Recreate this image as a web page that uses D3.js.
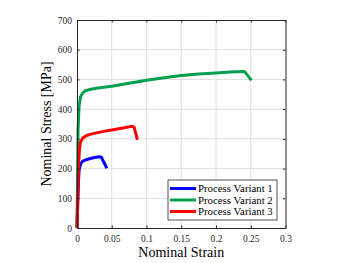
<!DOCTYPE html>
<html>
<head>
<meta charset="utf-8">
<script src="https://cdn.jsdelivr.net/npm/d3@7"></script>
<style>
  body { margin: 0; background: #fff; }
  svg { display: block; font-family: "Liberation Serif", "Times New Roman", serif; }
</style>
</head>
<body>
<div id="chart"></div>
<script>
// data (strain, stress in MPa)
const variant1 = [
    [0, 0], [0.002, 150], [0.003, 195], [0.005, 215], [0.008, 224], [0.012, 229],
    [0.018, 233], [0.025, 237], [0.032, 240], [0.035, 238], [0.043, 201]
];
const variant2 = [
    [0, 0], [0.0015, 330], [0.003, 410], [0.005, 440], [0.008, 454], [0.012, 462],
    [0.02, 467], [0.03, 471], [0.05, 477], [0.075, 487], [0.1, 497], [0.125, 506],
    [0.15, 513], [0.175, 518], [0.2, 522], [0.22, 525], [0.241, 527], [0.251, 497]
];
const variant3 = [
    [0, 0], [0.002, 200], [0.0035, 265], [0.005, 289], [0.008, 302], [0.012, 309],
    [0.02, 316], [0.03, 321], [0.04, 326], [0.05, 330], [0.06, 334], [0.07, 338],
    [0.078, 342], [0.082, 340], [0.087, 297]
];
const seriesNames = ["Process Variant 1", "Process Variant 2", "Process Variant 3"];
const seriesColors = ["#0000ff", "#00a04f", "#ff0000"];
const xTicks = [0, 0.05, 0.1, 0.15, 0.2, 0.25, 0.3];
const yTicks = [0, 100, 200, 300, 400, 500, 600, 700];

const W = 350, H = 263;
const margin = { left: 77, top: 20, right: 64.5, bottom: 35 };
const iw = W - margin.left - margin.right;
const ih = H - margin.top - margin.bottom;

const svg = d3.select("#chart").append("svg")
    .attr("width", W).attr("height", H);

const x = d3.scaleLinear().domain([0, 0.3]).range([0, iw]);
const y = d3.scaleLinear().domain([0, 700]).range([ih, 0]);

const g = svg.append("g").attr("transform", `translate(${margin.left},${margin.top})`);

// grid
g.append("g").selectAll("line").data(xTicks.slice(1, -1)).join("line")
    .attr("x1", d => x(d)).attr("x2", d => x(d))
    .attr("y1", 0).attr("y2", ih)
    .attr("stroke", "#dedede").attr("stroke-width", 1);
g.append("g").selectAll("line").data(yTicks.slice(1, -1)).join("line")
    .attr("y1", d => y(d)).attr("y2", d => y(d))
    .attr("x1", 0).attr("x2", iw)
    .attr("stroke", "#dedede").attr("stroke-width", 1);

// lines
const line = d3.line().x(d => x(d[0])).y(d => y(d[1]));
[variant1, variant2, variant3].forEach((s, i) => {
    g.append("path").datum(s)
        .attr("d", line)
        .attr("fill", "none")
        .attr("stroke", seriesColors[i])
        .attr("stroke-width", 3)
        .attr("stroke-linejoin", "round");
});

// axes, ticks pointing inward like matlab
const fmt = d => d === 0 ? "0" : String(d);
const axisStyle = sel => {
    sel.select(".domain").attr("stroke", "#262626");
    sel.selectAll(".tick line").attr("stroke", "#262626");
    sel.selectAll("text").attr("fill", "#262626").attr("font-size", "9.5px")
        .attr("font-family", "Liberation Serif, serif");
};
g.append("g").attr("transform", `translate(0,${ih})`)
    .call(d3.axisBottom(x).tickValues(xTicks).tickFormat(fmt).tickSizeInner(-2.5).tickSizeOuter(0).tickPadding(7))
    .call(axisStyle);
g.append("g")
    .call(d3.axisLeft(y).tickValues(yTicks).tickFormat(fmt).tickSizeInner(-2.5).tickSizeOuter(0).tickPadding(5))
    .call(axisStyle);
g.append("g")
    .call(d3.axisTop(x).tickValues(xTicks).tickFormat("").tickSizeInner(-2.5).tickSizeOuter(0))
    .call(axisStyle);
g.append("g").attr("transform", `translate(${iw},0)`)
    .call(d3.axisRight(y).tickValues(yTicks).tickFormat("").tickSizeInner(-2.5).tickSizeOuter(0))
    .call(axisStyle);

// axis labels
svg.append("text")
    .attr("x", margin.left + iw / 2).attr("y", 257)
    .attr("text-anchor", "middle").attr("font-size", "14px").attr("fill", "#000")
    .text("Nominal Strain");
svg.append("text")
    .attr("transform", `translate(51,${margin.top + ih / 2}) rotate(-90)`)
    .attr("text-anchor", "middle").attr("font-size", "14px").attr("fill", "#000")
    .text("Nominal Stress [MPa]");

// legend
const lg = svg.append("g").attr("transform", "translate(168,180)");
lg.append("rect").attr("width", 109).attr("height", 40)
    .attr("fill", "#fff").attr("stroke", "#262626").attr("stroke-width", 0.8);
seriesNames.forEach((n, i) => {
    const yy = 8.5 + i * 11.5;
    lg.append("line").attr("x1", 2).attr("x2", 28).attr("y1", yy).attr("y2", yy)
        .attr("stroke", seriesColors[i]).attr("stroke-width", 3);
    lg.append("text").attr("x", 30).attr("y", yy + 3.5)
        .attr("font-size", "10.8px").attr("fill", "#000").text(n);
});
</script>
</body>
</html>
